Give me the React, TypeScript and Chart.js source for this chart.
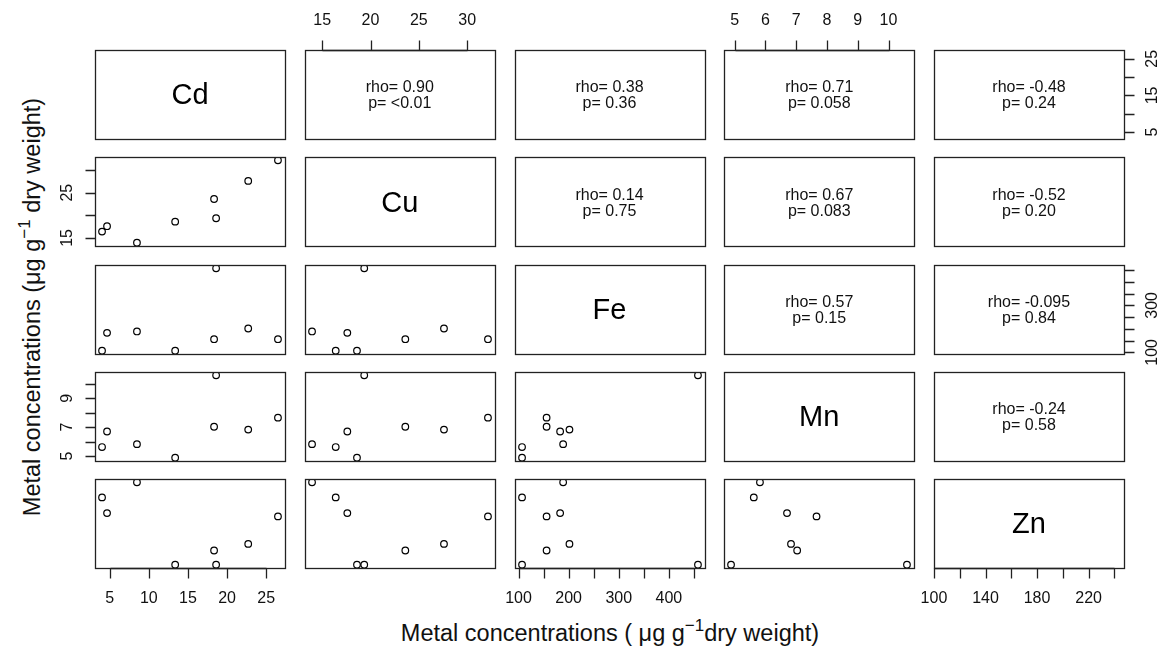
import React, { useEffect, useRef } from 'react';
import { Chart, registerables } from 'chart.js';

Chart.register(...registerables);

// ---------- data ----------
const variables = ['Cd', 'Cu', 'Fe', 'Mn', 'Zn'];
const cd = [4.03, 4.67, 8.49, 13.37, 18.34, 18.6, 22.7, 26.5];
const cu = [16.4, 17.6, 13.95, 18.6, 23.6, 19.35, 27.6, 32.15];
const fe = [107, 183, 189, 107, 156, 458, 201.6, 156];
const mn = [5.62, 6.7, 5.82, 4.88, 7.03, 10.6, 6.83, 7.66];
const zn = [217, 191, 242, 105.5, 129, 105.5, 140, 185.5];

// correlation text in upper panels (by row, then columns to the right of diagonal)
const rhoText = [
  ['0.90', '0.38', '0.71', '-0.48'],
  ['0.14', '0.67', '-0.52'],
  ['0.57', '-0.095'],
  ['-0.24'],
];
const pText = [
  ['<0.01', '0.36', '0.058', '0.24'],
  ['0.75', '0.083', '0.20'],
  ['0.15', '0.84'],
  ['0.58'],
];

// tick values and labels
const cdTicks = [5, 10, 15, 20, 25];
const cuTicks = [15, 20, 25, 30];
const feTicks = [100, 150, 200, 250, 300, 350, 400, 450];
const mnTicks = [5, 6, 7, 8, 9, 10];
const znTicks = [100, 120, 140, 160, 180, 200, 220, 240];

const cdLabelsH = [5, 10, 15, 20, 25];
const cuLabelsH = [15, 20, 25, 30];
const feLabelsH = [100, 200, 300, 400];
const mnLabelsH = [5, 6, 7, 8, 9, 10];
const znLabelsH = [100, 140, 180, 220];

const cdLabelsV = [5, 15, 25];
const cuLabelsV = [15, 25];
const feLabelsV = [100, 300];
const mnLabelsV = [5, 7, 9];
const znLabelsV = [100, 180];

const seriesList = [cd, cu, fe, mn, zn];
const ticksList = [cdTicks, cuTicks, feTicks, mnTicks, znTicks];
const hLabelsList = [cdLabelsH, cuLabelsH, feLabelsH, mnLabelsH, znLabelsH];
const vLabelsList = [cdLabelsV, cuLabelsV, feLabelsV, mnLabelsV, znLabelsV];

// ---------- layout ----------
const LEFT0 = 95;
const PITCH_X = 209.75;
const PANEL_W = 190;
const TOP0 = 50;
const PITCH_Y = 107.3;
const PANEL_H = 88.5;
const M = 45;
const TICK = 10;
const LBL_H = 30; // horizontal axis label center distance from frame
const LBL_V = 28; // vertical axis label center distance from frame
const FONT = '"Liberation Sans", Arial, Helvetica, sans-serif';

function rangeOf(arr: number[]): [number, number] {
  const mi = Math.min(...arr);
  const ma = Math.max(...arr);
  const d = (ma - mi) * 0.04;
  return [mi - d, ma + d];
}

const rpairsPlugin = {
  id: 'rpairs',
  afterDraw(chart: any, _args: any, opts: any) {
    const ctx = chart.ctx as CanvasRenderingContext2D;
    const { left, top, right, bottom } = chart.chartArea;
    const xs = chart.scales.x;
    const ys = chart.scales.y;
    const L = Math.round(left) + 0.5;
    const T = Math.round(top) + 0.5;
    const R = Math.round(right) + 0.5;
    const B = Math.round(bottom) + 0.5;
    ctx.save();
    ctx.strokeStyle = '#222';
    ctx.lineWidth = 1.3;
    ctx.strokeRect(L, T, R - L, B - T);
    ctx.fillStyle = '#111';
    ctx.font = `16px ${FONT}`;
    ctx.textAlign = 'center';
    ctx.textBaseline = 'middle';
    const side = opts.side as string;
    const ticks = (opts.ticks || []) as number[];
    const labels = (opts.labels || []) as number[];
    if (side === 'bottom' || side === 'top') {
      const y0 = side === 'bottom' ? B : T;
      const dir = side === 'bottom' ? 1 : -1;
      ctx.beginPath();
      const xa = Math.round(xs.getPixelForValue(ticks[0])) + 0.5;
      const xb = Math.round(xs.getPixelForValue(ticks[ticks.length - 1])) + 0.5;
      ctx.moveTo(xa, y0);
      ctx.lineTo(xb, y0);
      for (const v of ticks) {
        const x = Math.round(xs.getPixelForValue(v)) + 0.5;
        ctx.moveTo(x, y0);
        ctx.lineTo(x, y0 + dir * TICK);
      }
      ctx.stroke();
      for (const v of labels) {
        const x = xs.getPixelForValue(v);
        ctx.fillText(String(v), x, y0 + dir * LBL_H);
      }
    } else if (side === 'left' || side === 'right') {
      const x0 = side === 'left' ? L : R;
      const dir = side === 'left' ? -1 : 1;
      ctx.beginPath();
      for (const v of ticks) {
        const y = Math.round(ys.getPixelForValue(v)) + 0.5;
        ctx.moveTo(x0, y);
        ctx.lineTo(x0 + dir * TICK, y);
      }
      ctx.stroke();
      for (const v of labels) {
        const y = ys.getPixelForValue(v);
        ctx.save();
        ctx.translate(x0 + dir * LBL_V, y);
        ctx.rotate(-Math.PI / 2);
        ctx.fillText(String(v), 0, 0);
        ctx.restore();
      }
    }
    ctx.restore();
  },
};

export default function App() {
  const refs = useRef<(HTMLCanvasElement | null)[]>([]);

  useEffect(() => {
    const charts: Chart[] = [];
    for (let r = 0; r < 5; r++) {
      for (let c = 0; c < 5; c++) {
        const canvas = refs.current[r * 5 + c];
        if (!canvas) continue;
        const xsData = seriesList[c];
        const ysData = seriesList[r];
        const points = r > c ? xsData.map((x, k) => ({ x, y: ysData[k] })) : [];
        const [xmin, xmax] = rangeOf(xsData);
        const [ymin, ymax] = rangeOf(ysData);
        let side = '';
        let ticks: number[] = [];
        let labels: number[] = [];
        if (r === 4 && c % 2 === 0) {
          side = 'bottom'; ticks = ticksList[c]; labels = hLabelsList[c];
        } else if (r === 0 && c % 2 === 1) {
          side = 'top'; ticks = ticksList[c]; labels = hLabelsList[c];
        } else if (c === 0 && r % 2 === 1) {
          side = 'left'; ticks = ticksList[r]; labels = vLabelsList[r];
        } else if (c === 4 && r % 2 === 0) {
          side = 'right'; ticks = ticksList[r]; labels = vLabelsList[r];
        }
        const chart = new Chart(canvas, {
          type: 'scatter',
          data: {
            datasets: [
              {
                data: points,
                pointStyle: 'circle',
                pointRadius: 3.3,
                pointBorderWidth: 1.2,
                pointBorderColor: '#000',
                pointBackgroundColor: 'rgba(0,0,0,0)',
                clip: 0,
              } as any,
            ],
          },
          options: {
            animation: false,
            responsive: false,
            maintainAspectRatio: false,
            devicePixelRatio: 1,
            events: [],
            layout: { padding: M },
            scales: {
              x: { type: 'linear', min: xmin, max: xmax, display: false },
              y: { type: 'linear', min: ymin, max: ymax, display: false },
            },
            plugins: {
              legend: { display: false },
              tooltip: { enabled: false },
              rpairs: { side, ticks, labels },
            } as any,
          },
          plugins: [rpairsPlugin],
        });
        charts.push(chart);
      }
    }
    return () => charts.forEach((ch) => ch.destroy());
  }, []);

  const canvases: React.ReactNode[] = [];
  const texts: React.ReactNode[] = [];
  for (let r = 0; r < 5; r++) {
    for (let c = 0; c < 5; c++) {
      const left = LEFT0 + c * PITCH_X;
      const top = TOP0 + r * PITCH_Y;
      canvases.push(
        <canvas
          key={`cv${r}-${c}`}
          ref={(el) => { refs.current[r * 5 + c] = el; }}
          width={Math.round(PANEL_W + 2 * M)}
          height={Math.round(PANEL_H + 2 * M)}
          style={{
            position: 'absolute',
            left: Math.round(left - M),
            top: Math.round(top - M),
            width: Math.round(PANEL_W + 2 * M),
            height: Math.round(PANEL_H + 2 * M),
          }}
        />
      );
      const cx = left + PANEL_W / 2;
      const cy = top + PANEL_H / 2;
      if (r === c) {
        texts.push(
          <div
            key={`d${r}`}
            style={{
              position: 'absolute', left: cx, top: cy, transform: 'translate(-50%,-50%)',
              fontSize: 29, fontFamily: FONT, color: '#000', lineHeight: 1, whiteSpace: 'nowrap',
            }}
          >
            {variables[r]}
          </div>
        );
      } else if (c > r) {
        const rho = rhoText[r][c - r - 1];
        const p = pText[r][c - r - 1];
        texts.push(
          <div
            key={`u${r}-${c}`}
            style={{
              position: 'absolute', left: cx, top: cy + 1, transform: 'translate(-50%,-50%)',
              fontSize: 16, fontFamily: FONT, color: '#111', lineHeight: '16px',
              textAlign: 'center', whiteSpace: 'nowrap',
            }}
          >
            <div>{`rho= ${rho}`}</div>
            <div>{`p= ${p}`}</div>
          </div>
        );
      }
    }
  }

  const supStyle: React.CSSProperties = { fontSize: 17, verticalAlign: 0, position: 'relative', top: -10 };

  return (
    <div style={{ position: 'fixed', left: 0, top: 0, width: 1166, height: 648, overflow: 'hidden', background: '#fff' }}>
      {canvases}
      {texts}
      <div
        style={{
          position: 'absolute', left: 610, top: 634, transform: 'translate(-50%,-50%)',
          fontSize: 23.5, fontFamily: FONT, color: '#111', whiteSpace: 'nowrap', lineHeight: 1,
        }}
      >
        Metal concentrations ( μg g<sup style={supStyle}>−1</sup>dry weight)
      </div>
      <div
        style={{
          position: 'absolute', left: 33, top: 307, transform: 'translate(-50%,-50%) rotate(-90deg)',
          fontSize: 23.5, fontFamily: FONT, color: '#111', whiteSpace: 'nowrap', lineHeight: 1,
        }}
      >
        Metal concentrations (μg g<sup style={supStyle}>−1</sup> dry weight)
      </div>
    </div>
  );
}
